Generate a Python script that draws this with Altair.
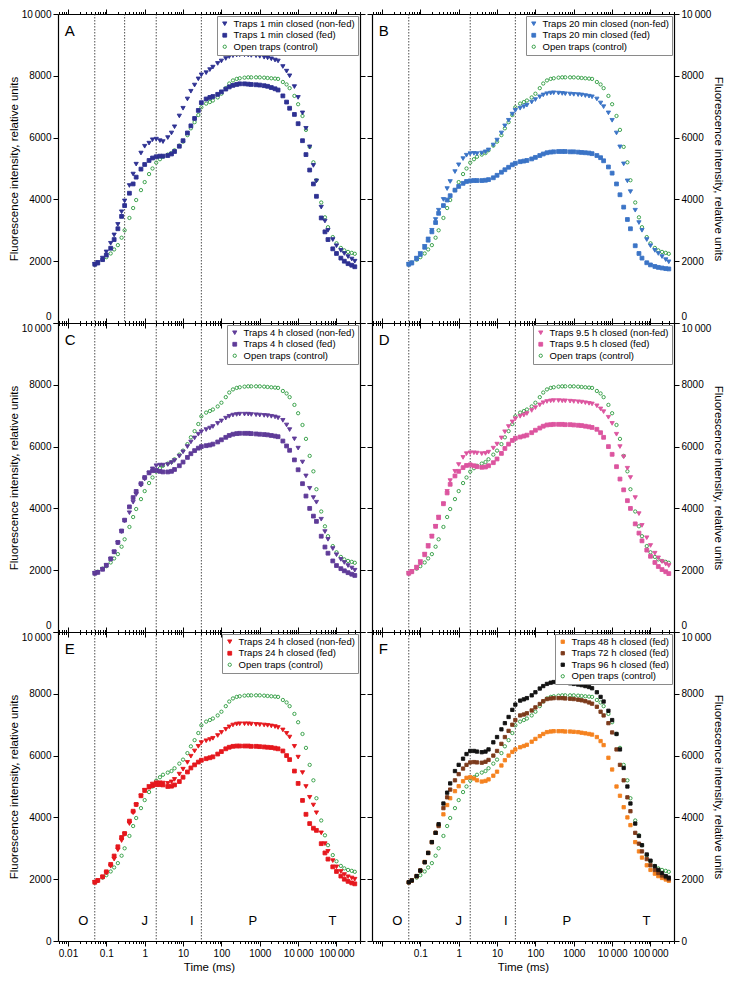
import altair as alt
import pandas as pd

FONT = "Liberation Sans"

# ---------------- data ----------------
TIME_MS = [0.05, 0.06, 0.08, 0.1, 0.13, 0.16, 0.2, 0.25, 0.3,
           0.4, 0.5, 0.6, 0.8, 1, 1.3, 1.6, 2, 2.5, 3,
           4, 5, 6, 8, 10, 13, 16, 20, 25, 30,
           40, 50, 60, 80, 100, 130, 160, 200, 250, 300,
           400, 500, 600, 800, 1000, 1300, 1600, 2000, 2500, 3000,
           4000, 5000, 6000, 8000, 10000, 13000, 16000, 20000, 25000, 30000,
           40000, 50000, 60000, 80000, 100000, 130000, 160000, 200000, 250000, 300000]

CONTROL = [1900, 1950, 2050, 2130, 2250, 2380, 2520, 2760, 3000,
           3400, 3720, 3980, 4300, 4560, 4820, 5000, 5190, 5300, 5380,
           5450, 5500, 5590, 5740, 5870, 6080, 6300, 6500, 6730, 6980,
           7100, 7150, 7200, 7300, 7420, 7600, 7750, 7850, 7900, 7920,
           7940, 7950, 7950, 7950, 7950, 7940, 7930, 7920, 7910, 7900,
           7800, 7720, 7600, 7350, 7080, 6700, 6250, 5700, 5200, 4620,
           3900, 3420, 3100, 2780, 2580, 2430, 2350, 2300, 2270, 2240]

A_NONFED = [1900, 1960, 2100, 2300, 2580, 2850, 3190, 3600, 3950,
            4450, 4820, 5140, 5500, 5720, 5820, 5930, 5950, 5900, 5870,
            6000, 6150, 6350, 6700, 6950, 7250, 7500, 7700, 7900, 8030,
            8100, 8200, 8280, 8400, 8480, 8560, 8620, 8650, 8670, 8680,
            8680, 8670, 8660, 8650, 8630, 8600, 8580, 8550, 8510, 8480,
            8300, 8150, 8000, 7650, 7300, 6800, 6300, 5700, 5100, 4600,
            3750, 3300, 3000, 2700, 2500, 2350, 2250, 2150, 2070, 2000]
A_FED = [1900, 1940, 2050, 2200, 2420, 2700, 3050, 3450, 3800,
         4200, 4500, 4720, 4980, 5130, 5260, 5340, 5380, 5400, 5400,
         5420, 5470, 5550, 5720, 5900, 6150, 6380, 6620, 6880, 7130,
         7250, 7300, 7330, 7400, 7480, 7570, 7640, 7690, 7720, 7740,
         7740, 7730, 7720, 7710, 7700, 7680, 7660, 7620, 7580, 7540,
         7350, 7150, 6950, 6750, 6450, 5900, 5450, 4950, 4500, 4100,
         3400, 2950, 2700, 2400, 2250, 2100, 2000, 1920, 1870, 1820]

B_NONFED = [1900, 1950, 2100, 2250, 2480, 2720, 3000, 3350, 3650,
            4000, 4350, 4580, 4900, 5120, 5320, 5430, 5480, 5490, 5480,
            5500, 5540, 5600, 5760, 5920, 6150, 6380, 6560, 6760, 6880,
            6950, 7000, 7050, 7150, 7230, 7320, 7380, 7420, 7440, 7450,
            7440, 7430, 7420, 7410, 7400, 7390, 7380, 7360, 7340, 7320,
            7250, 7120, 7000, 6800, 6560, 6150, 5700, 5150, 4600, 4250,
            3650, 3250, 3000, 2700, 2500, 2350, 2250, 2150, 2050, 1980]
B_FED = [1900, 1940, 2080, 2220, 2450, 2680, 2950, 3250, 3550,
         3800, 3980, 4120, 4300, 4420, 4520, 4580, 4600, 4610, 4610,
         4610, 4620, 4640, 4700, 4780, 4880, 4960, 5040, 5120, 5170,
         5220, 5240, 5260, 5310, 5360, 5420, 5470, 5510, 5530, 5540,
         5550, 5550, 5550, 5540, 5540, 5530, 5520, 5510, 5500, 5480,
         5420, 5350, 5250, 5050, 4850, 4500, 4150, 3750, 3350, 3050,
         2500, 2250, 2100, 1950, 1880, 1830, 1800, 1780, 1760, 1750]

C_NONFED = [1900, 1930, 2030, 2150, 2350, 2580, 2880, 3250, 3600,
            3860, 4200, 4450, 4750, 4950, 5150, 5280, 5380, 5400, 5400,
            5420, 5480, 5550, 5690, 5830, 6000, 6150, 6280, 6400, 6480,
            6550, 6600, 6650, 6750, 6830, 6920, 6980, 7020, 7040, 7050,
            7050, 7050, 7040, 7030, 7020, 7010, 7000, 6980, 6960, 6930,
            6850, 6700, 6550, 6250, 5950, 5500, 5050, 4650, 4350, 4200,
            3650, 3250, 3000, 2700, 2500, 2350, 2250, 2150, 2070, 2000]
C_FED = [1900, 1930, 2030, 2160, 2370, 2600, 2900, 3270, 3620,
         4050, 4350, 4550, 4800, 5000, 5150, 5220, 5230, 5200, 5180,
         5180, 5200, 5260, 5380, 5500, 5650, 5770, 5870, 5950, 6000,
         6030, 6050, 6080, 6150, 6220, 6300, 6360, 6400, 6420, 6430,
         6430, 6430, 6420, 6410, 6400, 6390, 6380, 6360, 6340, 6320,
         6180, 6020, 5880, 5570, 5250, 4800, 4400, 4000, 3750, 3580,
         3100, 2750, 2550, 2300, 2150, 2050, 1980, 1920, 1870, 1830]

D_NONFED = [1900, 1960, 2100, 2280, 2520, 2800, 3100, 3420, 3720,
            4150, 4550, 4900, 5200, 5420, 5650, 5770, 5800, 5800, 5790,
            5770, 5780, 5820, 5950, 6080, 6280, 6480, 6650, 6800, 6900,
            6980, 7020, 7070, 7170, 7260, 7350, 7420, 7460, 7480, 7490,
            7490, 7480, 7480, 7470, 7460, 7450, 7440, 7420, 7400, 7380,
            7320, 7220, 7130, 6950, 6750, 6400, 6000, 5670, 5300, 5000,
            4350, 3830, 3450, 3050, 2800, 2550, 2400, 2280, 2200, 2150]
D_FED = [1900, 1950, 2080, 2250, 2500, 2780, 3100, 3420, 3700,
         4150, 4500, 4780, 5050, 5200, 5320, 5390, 5410, 5380, 5350,
         5330, 5340, 5380, 5480, 5600, 5780, 5940, 6080, 6200, 6270,
         6310, 6340, 6370, 6450, 6530, 6600, 6660, 6700, 6710, 6720,
         6720, 6720, 6710, 6710, 6700, 6690, 6680, 6660, 6640, 6620,
         6560, 6450, 6300, 6000, 5750, 5350, 4950, 4600, 4250, 4000,
         3500, 3200, 2950, 2650, 2450, 2250, 2120, 2020, 1950, 1890]

E_NONFED = [1900, 1950, 2060, 2200, 2420, 2650, 2950, 3250, 3450,
            3800, 4150, 4400, 4700, 4880, 5000, 5080, 5120, 5120, 5110,
            5100, 5150, 5230, 5400, 5560, 5780, 5980, 6150, 6300, 6420,
            6480, 6520, 6560, 6650, 6750, 6850, 6930, 6990, 7020, 7030,
            7030, 7030, 7020, 7010, 7000, 6990, 6980, 6960, 6940, 6910,
            6830, 6720, 6600, 6300, 5950, 5450, 5000, 4650, 4400, 4150,
            3500, 3150, 2900, 2600, 2400, 2250, 2150, 2080, 2040, 2000]
E_FED = [1900, 1960, 2080, 2240, 2480, 2750, 3050, 3350, 3480,
         3880, 4200, 4420, 4700, 4870, 4980, 5030, 5060, 5060, 5050,
         5000, 5010, 5050, 5160, 5300, 5470, 5600, 5700, 5790, 5850,
         5900, 5930, 5960, 6050, 6130, 6220, 6270, 6300, 6310, 6310,
         6310, 6310, 6300, 6300, 6290, 6280, 6270, 6260, 6240, 6220,
         6150, 6000, 5870, 5500, 5100, 4550, 4100, 3800, 3650, 3580,
         3150, 2850, 2650, 2400, 2250, 2100, 2000, 1930, 1880, 1850]

F_48H = [1900, 1960, 2100, 2280, 2560, 2850, 3200, 3500, 3750,
         4100, 4400, 4620, 4850, 5010, 5170, 5280, 5300, 5260, 5200,
         5160, 5180, 5230, 5350, 5480, 5680, 5850, 6000, 6120, 6200,
         6270, 6310, 6350, 6450, 6540, 6630, 6700, 6760, 6780, 6790,
         6790, 6790, 6780, 6780, 6770, 6760, 6740, 6720, 6700, 6680,
         6600, 6470, 6340, 5930, 5550, 5000, 4700, 4330, 4000, 3750,
         3200, 2900, 2700, 2450, 2300, 2180, 2100, 2040, 1990, 1950]
F_72H = [1900, 1960, 2100, 2280, 2550, 2850, 3200, 3500, 3720,
         4300, 4650, 4900, 5200, 5400, 5580, 5700, 5780, 5790, 5780,
         5770, 5800, 5860, 6000, 6150, 6380, 6600, 6800, 7000, 7150,
         7300, 7330, 7370, 7460, 7560, 7670, 7760, 7830, 7850, 7860,
         7860, 7860, 7850, 7840, 7830, 7810, 7790, 7760, 7720, 7680,
         7580, 7420, 7300, 7050, 6750, 6200, 5700, 5200, 4650, 4200,
         3500, 3150, 2900, 2650, 2450, 2300, 2200, 2120, 2060, 2000]
F_96H = [1900, 1960, 2100, 2280, 2550, 2850, 3200, 3500, 3780,
         4450, 4800, 5100, 5500, 5700, 5900, 6050, 6150, 6150, 6130,
         6110, 6130, 6200, 6430, 6600, 6850, 7050, 7250, 7480, 7650,
         7780, 7820, 7860, 7950, 8050, 8170, 8250, 8320, 8360, 8380,
         8380, 8370, 8360, 8340, 8320, 8300, 8280, 8250, 8220, 8180,
         8050, 7900, 7750, 7450, 7150, 6700, 6200, 5600, 5000, 4450,
         3800, 3400, 3100, 2800, 2600, 2420, 2300, 2200, 2100, 2050]

CONTROL_NAME = "Open traps (control)"
CONTROL_COLOR = "#2a9a3c"

VLINES_A = [0.05, 0.3, 2, 30]
VLINES = [0.05, 2, 30]

PHASE_LABELS = ["O", "J", "I", "P", "T"]
PHASE_X = [0.025, 1.0, 17, 660, 79000]
PHASE_Y = 650

X_DECADES = [0.001, 0.01, 0.1, 1, 10, 100, 1000, 10000, 100000]
X_MULT = [1, 2, 3, 4, 5, 6, 7, 8, 9]
X_LABEL_VALUES = [0.01, 0.1, 1, 10, 100, 1000, 10000, 100000]
X_LABEL_TEXT = ["0.01", "0.1", "1", "10", "100", "1000", "10\u2009000", "100\u2009000"]
Y_TICKS = [0, 2000, 4000, 6000, 8000, 10000]

XMIN, XMAX = 0.0055, 410000

PANELS = {
    "A": dict(names=["Traps 1 min closed (non-fed)", "Traps 1 min closed (fed)"],
              data=[A_NONFED, A_FED], colors=["#2e3192", "#2e3192"],
              shapes=["triangle-down", "square"], vlines=VLINES_A),
    "B": dict(names=["Traps 20 min closed (non-fed)", "Traps 20 min closed (fed)"],
              data=[B_NONFED, B_FED], colors=["#3b74c6", "#3b74c6"],
              shapes=["triangle-down", "square"], vlines=VLINES),
    "C": dict(names=["Traps 4 h closed (non-fed)", "Traps 4 h closed (fed)"],
              data=[C_NONFED, C_FED], colors=["#5f3b98", "#5f3b98"],
              shapes=["triangle-down", "square"], vlines=VLINES),
    "D": dict(names=["Traps 9.5 h closed (non-fed)", "Traps 9.5 h closed (fed)"],
              data=[D_NONFED, D_FED], colors=["#dc559f", "#dc559f"],
              shapes=["triangle-down", "square"], vlines=VLINES),
    "E": dict(names=["Traps 24 h closed (non-fed)", "Traps 24 h closed (fed)"],
              data=[E_NONFED, E_FED], colors=["#e5171d", "#e5171d"],
              shapes=["triangle-down", "square"], vlines=VLINES),
    "F": dict(names=["Traps 48 h closed (fed)", "Traps 72 h closed (fed)", "Traps 96 h closed (fed)"],
              data=[F_48H, F_72H, F_96H], colors=["#f5821f", "#7c3a1b", "#121212"],
              shapes=["square", "square", "square"], vlines=VLINES),
}

W, H = 302, 309

XTICKS = [round(d * m, 8) for d in X_DECADES for m in X_MULT if XMIN <= d * m <= XMAX]
DECADE_TEST = "abs(log(datum.value)/LN10 - round(log(datum.value)/LN10)) < 0.001"
X_TICKSIZE = {"condition": {"test": DECADE_TEST, "value": 5}, "value": 2.5}
Y_LABEL_EXPR = "datum.value == 10000 ? '10\u2009000' : format(datum.value, 'd')"
YTITLE = "Fluorescence intensity, relative units"


def x_label_expr(skip_first):
    pairs = list(zip(X_LABEL_VALUES, X_LABEL_TEXT))
    if skip_first:
        pairs = pairs[1:]
    return " : ".join(f"datum.value == {v!r} ? '{s}'" for v, s in pairs) + " : ''"


def panel(key, row, col):
    p = PANELS[key]
    names = p["names"] + [CONTROL_NAME]
    colors = p["colors"] + [CONTROL_COLOR]
    fills = p["colors"] + ["transparent"]
    shapes = p["shapes"] + ["circle"]
    sizes = [18 if s == "triangle-down" else 11 for s in p["shapes"]] + [13]

    rows = []
    for t, v in zip(TIME_MS, CONTROL):
        rows.append({"t": t, "v": v, "s": CONTROL_NAME})
    for name, vals in zip(p["names"], p["data"]):
        for t, v in zip(TIME_MS, vals):
            rows.append({"t": t, "v": v, "s": name})
    df = pd.DataFrame(rows)

    xs = alt.Scale(type="log", domain=[XMIN, XMAX], nice=False)
    ys = alt.Scale(domain=[0, 10000], nice=False, zero=False)
    top = row == 0
    bottom = row == 2
    left = col == 0

    # the "10 000" of a lower panel sits just below the seam, the "0" of an upper one above it
    top_base = "middle" if top else "top"
    y_baseline = {"condition": {"test": "datum.value == 10000", "value": top_base}, "value": "middle"}
    y_offset = {"condition": {"test": "datum.value == 0", "value": 0 if bottom else -7}, "value": 0}

    if bottom:
        x_axis = alt.Axis(orient="bottom", values=XTICKS, tickSize=X_TICKSIZE, labels=True,
                          labelExpr=x_label_expr(key == "F"), labelOverlap=False,
                          labelFlush=False, labelPadding=2, title="Time (ms)", titlePadding=3)
    else:
        x_axis = alt.Axis(orient="bottom", values=XTICKS, tickSize=X_TICKSIZE, labels=False,
                          title=None)
    x_top = alt.Axis(orient="top", values=XTICKS, tickSize=X_TICKSIZE, labels=False, title=None)

    y_main = alt.Axis(orient="left" if left else "right", values=Y_TICKS, tickSize=5,
                      labelExpr=Y_LABEL_EXPR, labelFlush=False, labelOverlap=False,
                      labelBaseline=y_baseline, labelOffset=y_offset, labelPadding=2,
                      title=YTITLE, titlePadding=2)
    y_other = alt.Axis(orient="right" if left else "left", values=Y_TICKS, tickSize=5,
                       labels=False, title=None)

    leg = alt.Legend(title=None, orient="top-right", offset=2, strokeColor="#8a8a8a",
                     fillColor="white", padding=3, rowPadding=0.5, labelFontSize=9.5,
                     labelFont=FONT, labelLimit=220, symbolStrokeWidth=0.9, symbolOpacity=1)

    pts = alt.Chart(df).mark_point(opacity=1, strokeWidth=0.9).encode(
        x=alt.X("t:Q", scale=xs, axis=x_axis),
        y=alt.Y("v:Q", scale=ys, axis=y_main),
        fill=alt.Fill("s:N", scale=alt.Scale(domain=names, range=fills), legend=leg),
        stroke=alt.Stroke("s:N", scale=alt.Scale(domain=names, range=colors), legend=leg),
        shape=alt.Shape("s:N", scale=alt.Scale(domain=names, range=shapes), legend=leg),
        size=alt.Size("s:N", scale=alt.Scale(domain=names, range=sizes), legend=leg),
    )

    rules = alt.Chart(pd.DataFrame({"t": p["vlines"]})).mark_rule(
        color="#222222", strokeDash=[1.5, 1.5], strokeWidth=0.8
    ).encode(x=alt.X("t:Q", scale=xs, axis=None))

    letter = alt.Chart(pd.DataFrame({"t": [0.0083], "v": [9460], "lab": [key]})).mark_text(
        align="left", baseline="middle", fontSize=15, font=FONT, color="black"
    ).encode(
        x=alt.X("t:Q", scale=xs, axis=x_top),
        y=alt.Y("v:Q", scale=ys, axis=y_other),
        text="lab:N",
    )

    layers = [rules, pts, letter]
    if bottom:
        phase = alt.Chart(pd.DataFrame({"t": PHASE_X, "v": [PHASE_Y] * len(PHASE_X),
                                        "lab": PHASE_LABELS})).mark_text(
            align="center", baseline="middle", fontSize=13, font=FONT, color="black"
        ).encode(
            x=alt.X("t:Q", scale=xs, axis=None),
            y=alt.Y("v:Q", scale=ys, axis=None),
            text="lab:N",
        )
        layers.append(phase)

    return alt.layer(*layers).resolve_axis(x="independent", y="independent").properties(
        width=W, height=H)


order = [("A", 0, 0), ("B", 0, 1), ("C", 1, 0), ("D", 1, 1), ("E", 2, 0), ("F", 2, 1)]
panels = [panel(k, r, c) for k, r, c in order]

chart = alt.concat(*panels, columns=2, spacing={"row": 0, "column": 12}, bounds="flush").resolve_scale(
    x="independent", y="independent", fill="independent", stroke="independent",
    shape="independent", size="independent",
).resolve_legend(
    fill="independent", stroke="independent", shape="independent", size="independent",
).properties(
    padding={"left": 0, "top": 0, "right": 0, "bottom": 0}
).configure_view(stroke=None).configure_axis(
    domainColor="black", domainWidth=1.2, tickColor="black", tickWidth=1,
    labelColor="black", titleColor="black", labelFont=FONT, titleFont=FONT,
    labelFontSize=10, titleFontSize=11.5, titleFontWeight="normal", grid=False,
)

chart.save("out.html", embed_options={"renderer": "svg", "actions": False})
